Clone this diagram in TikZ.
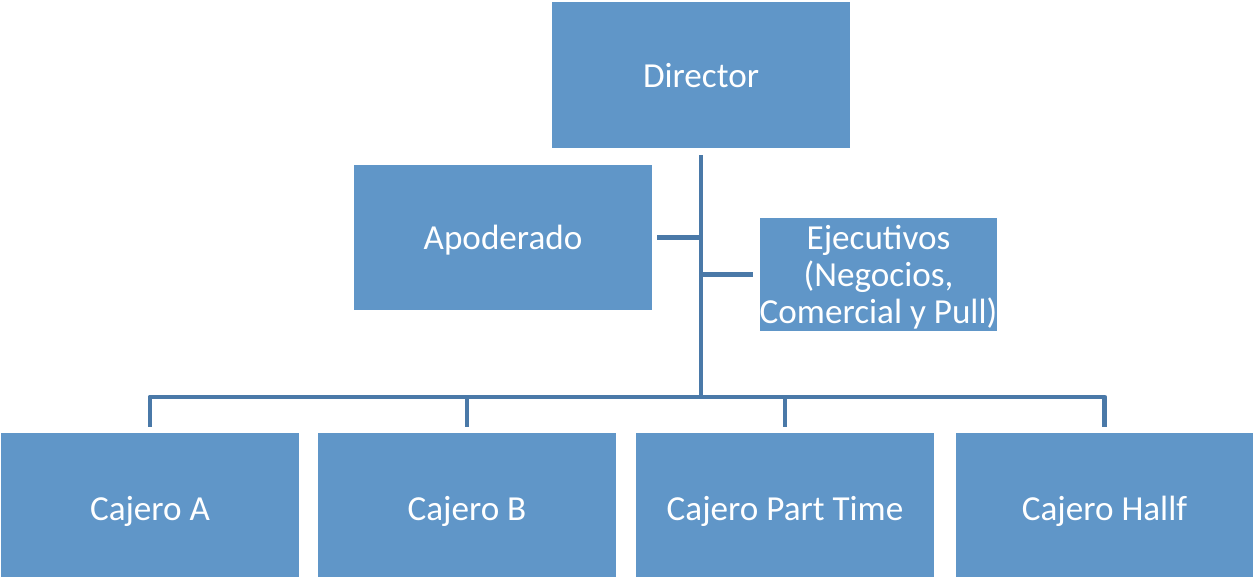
\documentclass[tikz,border=0pt]{standalone}
\usepackage{fontspec}
\setmainfont{Carlito}
\definecolor{boxfill}{HTML}{6096C8}
\definecolor{linecol}{HTML}{4A79A8}
\tikzset{
  unit/.style = {fill=boxfill, draw=none, text=white, inner sep=0pt, text depth=0pt,
    font=\fontsize{20}{21}\selectfont, align=center},
  bigbox/.style = {unit, minimum width=5.96cm, minimum height=2.92cm},
  conn/.style = {draw=linecol, line width=2.8pt, line join=round}
}

\begin{document}
\begin{tikzpicture}[x=0.02cm,y=-0.02cm]
  \useasboundingbox (0,0) rectangle (1253,577);
  \clip (0,0) rectangle (1253,577);
  % top level
  \node (dir) at (701,75) [bigbox] {Director};
  % staff
  \node (apo) at (503,237.5) [bigbox, minimum height=2.9cm] {Apoderado};
  \node (eje) at (878.5,274.5) [unit, minimum width=4.74cm, minimum height=2.26cm]
    {Ejecutivos\\(Negocios,\\Comercial y Pull)};
  % cashiers
  \node (cA) at (150,508) [bigbox, minimum height=3cm] {Cajero A};
  \node (cB) at (467,508) [bigbox, minimum height=3cm] {Cajero B};
  \node (cP) at (785,508) [bigbox, minimum height=3cm] {Cajero Part Time};
  \node (cH) at (1104.5,508) [bigbox, minimum height=3cm] {Cajero Hallf};
  % connectors
  \coordinate (bus) at (701,397);
  \draw[conn] ([yshift=-0.14cm]dir.south) -- (bus);
  \draw[conn] ([xshift=0.1cm]apo.east) -- (apo.east -| bus);
  \draw[conn] (bus |- eje.west) -- ([xshift=-0.12cm]eje.west);
  \draw[conn] ([yshift=0.12cm]cA.north) |- (bus) -| ([yshift=0.12cm]cH.north);
  \foreach \c in {cB,cP}
    \draw[conn] ([yshift=0.12cm]\c.north) -- (\c.north |- bus);
\end{tikzpicture}
\end{document}
